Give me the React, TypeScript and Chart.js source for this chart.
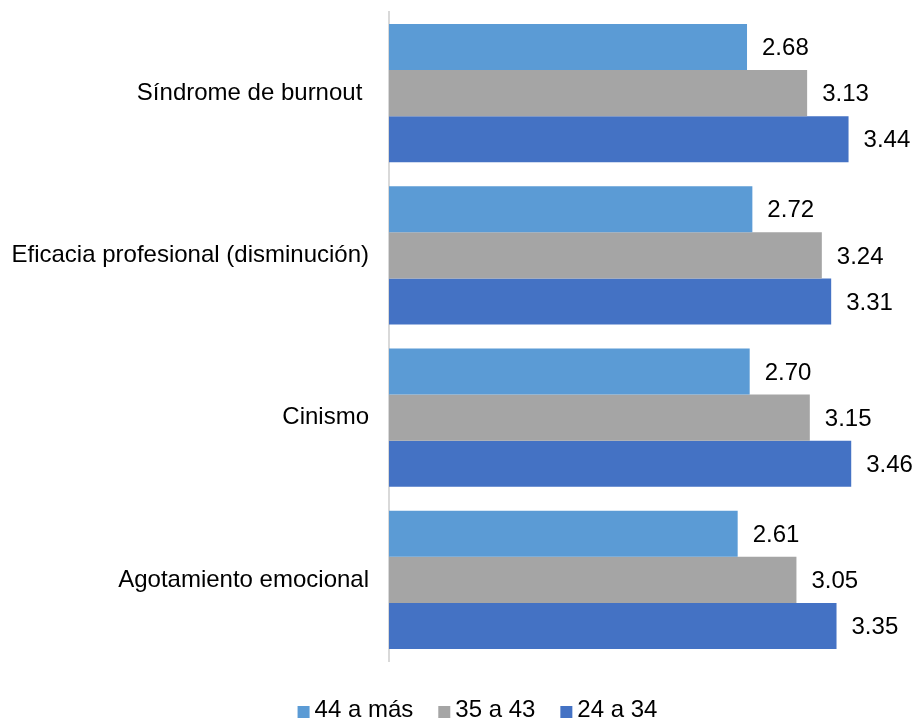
import React, { useEffect, useRef } from "react";
import { Chart, registerables } from "chart.js";

Chart.register(...registerables);

const categories = [
  "Síndrome de burnout ",
  "Eficacia profesional (disminución)",
  "Cinismo",
  "Agotamiento emocional",
];
const seriesNames = ["44 a más", "35 a 43", "24 a 34"];
const values44 = [2.68, 2.72, 2.7, 2.61];
const values35 = [3.13, 3.24, 3.15, 3.05];
const values24 = [3.44, 3.31, 3.46, 3.35];
const colors = ["#5B9BD5", "#A5A5A5", "#4472C4"];

const FONT = "'Liberation Sans', Arial, sans-serif";
const FS = 24;

const valueLabels = {
  id: "valueLabels",
  afterDatasetsDraw(chart: any) {
    const ctx = chart.ctx;
    ctx.save();
    ctx.font = `${FS}px ${FONT}`;
    ctx.fillStyle = "#000";
    ctx.textAlign = "left";
    ctx.textBaseline = "middle";
    chart.data.datasets.forEach((ds: any, i: number) => {
      const meta = chart.getDatasetMeta(i);
      meta.data.forEach((el: any, j: number) => {
        const v = ds.data[j] as number;
        ctx.fillText(v.toFixed(2), el.x + 15, el.y + 1.5);
      });
    });
    ctx.restore();
  },
};

const customLegend = {
  id: "customLegend",
  afterDraw(chart: any) {
    const ctx = chart.ctx;
    ctx.save();
    ctx.font = `${FS}px ${FONT}`;
    ctx.textBaseline = "middle";
    ctx.textAlign = "left";
    const box = 12;
    const gap = 5;
    const spacing = 25;
    const ds = chart.data.datasets;
    const widths = ds.map((d: any) => box + gap + ctx.measureText(d.label).width);
    const total = widths.reduce((a: number, b: number) => a + b, 0) + spacing * (ds.length - 1);
    let x = 477.5 - total / 2;
    const cy = 710.5;
    ds.forEach((d: any, i: number) => {
      ctx.fillStyle = d.backgroundColor;
      ctx.fillRect(x, 706, box, box);
      ctx.fillStyle = "#000";
      ctx.fillText(d.label, x + box + gap, cy);
      x += widths[i] + spacing;
    });
    ctx.restore();
  },
};

export default function App() {
  const ref = useRef<HTMLCanvasElement | null>(null);
  useEffect(() => {
    if (!ref.current) return;
    const chart = new Chart(ref.current, {
      type: "bar",
      data: {
        labels: categories,
        datasets: [values44, values35, values24].map((d, i) => ({
          label: seriesNames[i],
          data: d,
          backgroundColor: colors[i],
          borderWidth: 0,
          categoryPercentage: 0.853,
          barPercentage: 1.0,
        })),
      },
      options: {
        indexAxis: "y",
        animation: false,
        responsive: false,
        maintainAspectRatio: false,
        layout: { padding: { left: 0, right: 7, top: 12, bottom: 59 } },
        plugins: {
          legend: { display: false },
          tooltip: { enabled: false },
        },
        scales: {
          x: {
            display: false,
            min: 0,
            max: 3.9,
          },
          y: {
            afterFit(scale: any) {
              scale.width = 389;
              scale.paddingTop = 0;
              scale.paddingBottom = 0;
            },
            grid: { display: false, drawTicks: false },
            border: { display: true, color: "#D9D9D9", width: 2 },
            ticks: {
              padding: 20,
              color: "#000",
              font: { family: FONT, size: FS },
            },
          },
        },
      },
      plugins: [valueLabels, customLegend],
    });
    return () => chart.destroy();
  }, []);
  return (
    <div style={{ position: "fixed", left: 0, top: 0, width: 917, height: 720, background: "#fff" }}>
      <canvas ref={ref} width={917} height={720} style={{ width: 917, height: 720 }} />
    </div>
  );
}
